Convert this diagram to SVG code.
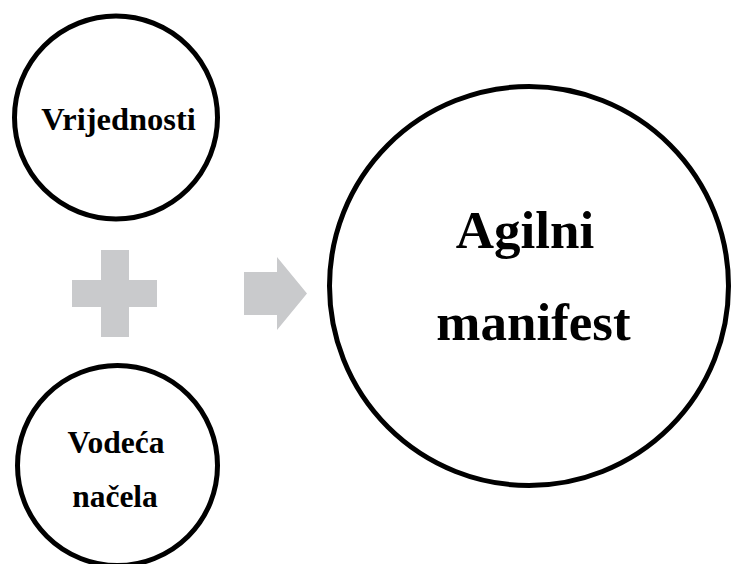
<svg xmlns="http://www.w3.org/2000/svg" width="731" height="564" viewBox="0 0 731 564">
<style>
.ring{fill:#fff;stroke:#000;stroke-width:5}
.lbl{font-family:"Liberation Serif","Times New Roman",serif;font-weight:bold;fill:#000;text-anchor:middle}
.sym{fill:#c9cacc}
</style>
<rect width="731" height="564" fill="#fff"/>
<g id="connectors">
<path class="sym" d="M72,280H101V250H129V280H157V307H129V337H101V307H72Z"/>
<path class="sym" d="M244,272H277V257L307,293.5L277,330V315H244Z"/>
</g>
<g id="vrijednosti">
<circle class="ring" cx="116" cy="117.5" r="101.5"/>
<text class="lbl" x="118.5" y="130" font-size="32.5">Vrijednosti</text>
</g>
<g id="vodeca-nacela">
<circle class="ring" cx="117.5" cy="465.5" r="100"/>
<text class="lbl" x="116" y="453" font-size="31.5">Vodeća</text>
<text class="lbl" x="115" y="507" font-size="31.5">načela</text>
</g>
<g id="agilni-manifest">
<circle class="ring" cx="529" cy="286" r="199.5"/>
<text class="lbl" x="525" y="248" font-size="53">Agilni</text>
<text class="lbl" x="533.5" y="340" font-size="53">manifest</text>
</g>
</svg>
